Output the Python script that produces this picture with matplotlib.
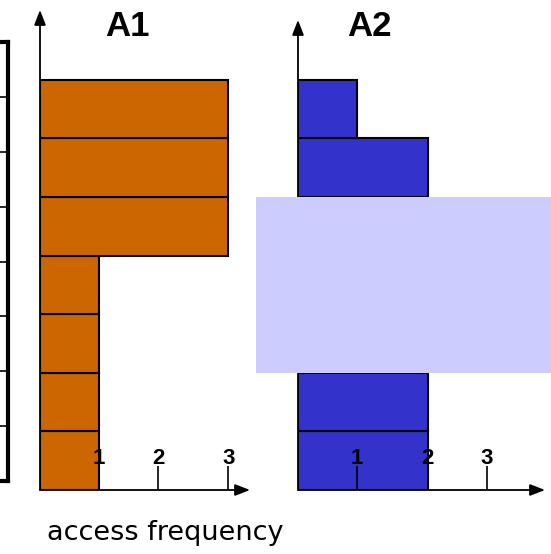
import matplotlib
matplotlib.use('Agg')
import matplotlib.pyplot as plt
from matplotlib.patches import Rectangle

# frequency of each row, listed from the bottom row up
A1_FREQ = [1, 1, 1, 1, 3, 3, 3]
A2_ROWS = [0, 1, 5, 6]          # rows of A2 not hidden by the overlay
A2_FREQ = [2, 2, 2, 1]
HIDDEN_ROWS = (2, 5)            # overlay covers rows 2..4 of A2
TICK_LABELS = ['1', '2', '3']
# where each frequency sits on the drawn axis (the sketch is not to scale)
A1_POS = {1: 1.0, 2: 2.0, 3: 3.19}
A2_POS = {1: 1.0, 2: 2.2, 3: 3.2}
N_TABLE_ROWS = 8

ORANGE = '#CC6600'
BLUE = '#3333CC'
LAVENDER = '#CCCCFF'

W, H = 551, 554
fig = plt.figure(figsize=(W / 100, H / 100), dpi=100)
UX, UY = 59.0, 58.6  # pixels per unit


def make_panel(x0, x1, ytop, title, title_x):
    ax = fig.add_axes([x0 / W, (H - 490) / H, (x1 - x0) / W, (490 - ytop) / H])
    ax.set_xlim(0, (x1 - x0) / UX)
    ax.set_ylim(0, (490 - ytop) / UY)
    for s in ax.spines.values():
        s.set_visible(False)
    ax.set_yticks([])
    ax.annotate('', xy=(1, 0), xytext=(0, 0), xycoords='axes fraction',
                arrowprops=dict(arrowstyle='-|>,head_length=0.9,head_width=0.35',
                                color='black', lw=1.3, shrinkA=0, shrinkB=0))
    ax.annotate('', xy=(0, 1), xytext=(0, 0), xycoords='axes fraction',
                arrowprops=dict(arrowstyle='-|>,head_length=0.9,head_width=0.35',
                                color='black', lw=1.3, shrinkA=0, shrinkB=0))
    fig.text(title_x / W, 1 - 27 / H, title, fontsize=25, fontweight='bold',
             family='Liberation Sans', ha='center', va='center')
    return ax


def freq_ticks(ax, pos):
    ax.set_xticks([pos[int(t)] for t in TICK_LABELS])
    ax.set_xticklabels(TICK_LABELS, fontsize=16, fontweight='bold',
                       family='Liberation Sans')
    ax.tick_params(axis='x', direction='in', length=17, width=1.2,
                   pad=-30, colors='black')


# left panel A1
ax1 = make_panel(40, 250, 10, 'A1', 127)
ax1.barh([i + 0.5 for i in range(len(A1_FREQ))], [A1_POS[v] for v in A1_FREQ],
         height=1, left=0, color=ORANGE, edgecolor='black', linewidth=1.5)
freq_ticks(ax1, A1_POS)

# right panel A2
ax2 = make_panel(298, 545, 20, 'A2', 369)
ax2.barh([r + 0.5 for r in A2_ROWS], [A2_POS[v] for v in A2_FREQ],
         height=1, left=0, color=BLUE, edgecolor='black', linewidth=1.5)
freq_ticks(ax2, A2_POS)
ax2.add_patch(Rectangle(((256 - 298) / UX, HIDDEN_ROWS[0]), (551 - 256) / UX,
                        HIDDEN_ROWS[1] - HIDDEN_ROWS[0], facecolor=LAVENDER,
                        edgecolor='none', clip_on=False, zorder=5))

fig.text(47 / W, 1 - 533 / H, 'access frequency', fontsize=19.5,
         family='DejaVu Sans', ha='left', va='center')

# cropped table at the left edge
ax0 = fig.add_axes([-20 / W, (H - 481) / H, 28 / W, 439 / H])
ax0.set_xlim(0, 1)
ax0.set_ylim(0, N_TABLE_ROWS)
ax0.set_xticks([])
ax0.set_yticks(range(1, N_TABLE_ROWS))
ax0.tick_params(axis='y', length=0, labelleft=False)
ax0.grid(axis='y', color='black', linewidth=1.2)
ax0.spines['left'].set_visible(False)
for side in ('right', 'top', 'bottom'):
    ax0.spines[side].set_linewidth(3)

fig.savefig('out.png', dpi=100)
